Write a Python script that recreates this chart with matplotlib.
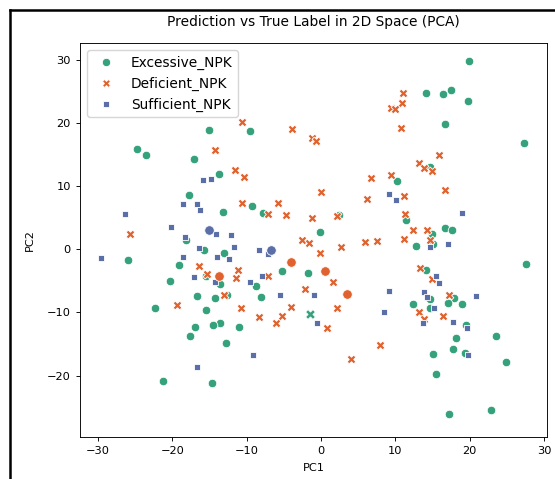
import matplotlib
matplotlib.use("Agg")
import matplotlib.pyplot as plt
from matplotlib.lines import Line2D

labels = ["Excessive_NPK", "Deficient_NPK", "Sufficient_NPK"]
colors = {"Excessive_NPK": "#36a27c", "Deficient_NPK": "#e0622e", "Sufficient_NPK": "#5a6ea8"}
markers = {"Excessive_NPK": "o", "Deficient_NPK": "X", "Sufficient_NPK": "s"}
sizes = {"Excessive_NPK": 38, "Deficient_NPK": 40, "Sufficient_NPK": 25}

# correctly predicted points, one pair of lists per class
exc_pc1 = [-15.0, -9.5, -24.7, -23.5, -17.1, -13.7, -17.7, -13.2, -9.3, -7.8, -18.2, -13.1, -15.7, -26.0,
           -0.2, 19.9, 14.1, 16.4, 17.5, 19.8, 16.7, 27.3, 10.2, 2.4, 11.4, 16.7, 17.6, 14.9, 12.8, 15.0,
           14.6, -19.1, -20.3, -15.5, -13.6, -8.7, -5.2, -1.7, -16.7, -14.2, -12.6, -8.1, -22.3, -15.5,
           -13.6, -14.5, -16.9, -11.0, -17.6, -12.8, -21.3, -14.6, 27.5, 14.1, 14.6, 12.4, 14.7, 17.9,
           17.1, 19.0, 19.5, 23.5, 18.1, 17.8, 19.4, 15.1, 24.9, 15.5, 22.8, 17.2]
exc_pc2 = [18.9, 18.8, 15.9, 15.0, 14.3, 12.0, 8.6, 5.9, 6.9, 5.7, 1.4, -0.6, -0.1, -1.7,
           2.8, 29.8, 24.8, 24.6, 25.2, 23.5, 19.8, 16.8, 10.8, 5.5, 4.7, 3.4, 3.1, 2.5, 0.5, 0.9,
           13.0, -2.5, -5.1, -4.3, -5.5, -5.8, -3.5, -3.8, -7.4, -7.7, -7.2, -7.5, -9.3, -9.6,
           -11.7, -12.0, -12.3, -12.3, -13.7, -14.8, -20.8, -21.1, -2.4, -3.3, -7.9, -8.7, -9.3, -7.7,
           -8.5, -8.6, -12.0, -13.7, -14.1, -15.8, -16.4, -16.6, -17.9, -19.7, -25.4, -26.1]

def_pc1 = [-10.6, -3.9, -1.2, -0.7, -14.2, -11.5, -10.3, -10.6, -5.8, -7.1, -4.7, -1.2, -25.7, -2.5,
           -1.6, 11.0, 10.9, 9.4, 10.0, 10.7, 15.8, 13.2, 13.8, 14.9, 6.7, 9.4, 16.6, 0.0, 6.2, 11.1,
           2.1, 11.3, 12.4, 14.2, 2.7, 5.9, 7.5, 11.1, 14.6, -0.1, -16.4, -15.3, -11.2, -11.4, -13.1,
           -19.4, -10.7, -4.1, -8.4, -5.2, -6.1, -2.2, -7.1, 13.3, 14.9, 1.6, 2.2, 0.8, 7.9, 4.0,
           13.2, 13.8, 16.4, 17.2]
def_pc2 = [20.2, 19.1, 17.7, 17.1, 15.8, 12.6, 11.4, 7.3, 7.4, 5.6, 5.4, 5.0, 2.5, 1.5,
           1.0, 24.7, 23.2, 22.3, 22.2, 19.2, 15.0, 13.7, 12.9, 12.4, 11.3, 11.7, 9.4, 9.0, 7.9, 8.5,
           5.2, 5.6, 3.0, 3.0, 0.4, 1.1, 1.3, 1.6, 1.5, -0.6, -2.6, -3.9, -3.2, -4.5, -7.2,
           -8.9, -9.3, -9.1, -10.8, -10.6, -11.7, -6.3, -4.3, -2.9, -4.7, -5.2, -9.3, -12.5, -15.1, -17.4,
           -9.9, -11.1, -10.6, -7.2]

suf_pc1 = [-15.9, -14.8, -18.5, -16.6, -16.3, -26.3, -20.1, -14.1, -12.1, -16.4, -11.7, -8.4, -18.6,
           -29.6, -14.0, -12.4, -7.1, -18.3, -17.1, -14.2, -9.5, -7.9, -5.5, -0.9, -0.5, -9.1, -16.7,
           9.1, 10.1, 18.9, 17.0, 14.7, 15.5, 15.8, 9.1, 13.9, 14.2, 15.2, 20.8, 8.5, 17.7, 19.6,
           19.8, 13.7]
suf_pc2 = [10.9, 11.2, 7.2, 7.1, 6.2, 5.6, 3.5, 2.4, 2.3, 0.2, 0.3, -0.1, -1.2,
           -1.3, -1.2, -1.6, -0.8, 1.9, -4.4, -5.2, -5.2, -4.3, -7.2, -7.2, -11.7, -16.8, -18.7,
           8.8, 7.8, 5.8, 0.8, 0.3, -4.3, -5.4, -6.6, -6.8, -7.6, -9.3, -7.4, -9.9, -11.5, -12.5,
           -16.8, -11.6]

# misclassified points: marker = true label, colour = predicted label
mis_pc1 = [-13.7, -4.1, 0.6, 3.5, -15.1, -6.7, -1.5]
mis_pc2 = [-4.3, -2.0, -3.5, -7.1, 3.1, -0.1, -10.3]
mis_true = ["Excessive_NPK"] * 6 + ["Deficient_NPK"]
mis_pred = ["Deficient_NPK"] * 4 + ["Sufficient_NPK"] * 2 + ["Excessive_NPK"]

fig = plt.figure(figsize=(5.55, 4.79), dpi=100)
ax = fig.add_axes([0.144, 0.088, 0.842, 0.822])

for lab, xs, ys in zip(labels, [exc_pc1, def_pc1, suf_pc1], [exc_pc2, def_pc2, suf_pc2]):
    ax.scatter(xs, ys, s=sizes[lab], c=colors[lab], marker=markers[lab], edgecolors="white", linewidths=0.6)
for x, y, t, p in zip(mis_pc1, mis_pc2, mis_true, mis_pred):
    ax.scatter([x], [y], s=sizes[t] * 1.25, c=colors[p], marker=markers[t], edgecolors="white", linewidths=0.6)

ax.set_xlim(-32.4, 30.4)
ax.set_ylim(-29.7, 32.65)
ax.set_xticks([-30, -20, -10, 0, 10, 20, 30])
ax.set_yticks([-20, -10, 0, 10, 20, 30])
ax.tick_params(labelsize=8.2, width=0.65, length=3)
for sp in ax.spines.values():
    sp.set_linewidth(0.65)
ax.set_xlabel("PC1", fontsize=8.2, labelpad=5)
ax.set_ylabel("PC2", fontsize=8.2, labelpad=9)
ax.set_title("Prediction vs True Label in 2D Space (PCA)", fontsize=9.9, pad=12)

handles = [Line2D([], [], linestyle="", marker=markers[l], color=colors[l], markeredgecolor="white",
                  markeredgewidth=0.6, markersize=6 if l != "Sufficient_NPK" else 5) for l in labels]
ax.legend(handles, labels, loc="upper left", fontsize=9.9)

# black frame of the screenshot
fig.add_artist(Line2D([0.018, 0.018], [0, 0.979], transform=fig.transFigure, color="black", lw=1.8))
fig.add_artist(Line2D([0.018, 1], [0.979, 0.979], transform=fig.transFigure, color="black", lw=1.8))

fig.savefig("out.png", dpi=100)
